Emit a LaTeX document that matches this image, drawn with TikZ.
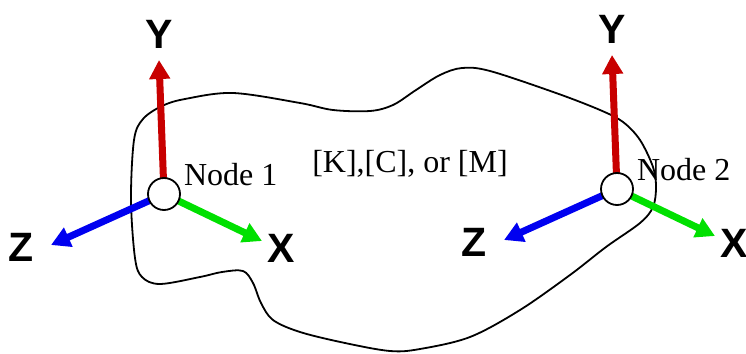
\documentclass[tikz,border=0pt]{standalone}
\usepackage{fontspec}
\setmainfont{Liberation Serif}
\newfontfamily\axisfont{Liberation Sans}
\usetikzlibrary{arrows.meta, positioning}
\definecolor{yaxis}{HTML}{C80000}
\definecolor{xaxis}{HTML}{00E000}
\definecolor{zaxis}{HTML}{0000F0}

\tikzset{
  joint/.style={circle, draw, fill=white, line width=1.8pt, minimum size=32pt, inner sep=0pt},
  axis/.style={line width=7pt, -{Triangle[length=19pt, width=20pt]}},
  axlabel/.style={font=\axisfont\bfseries\fontsize{41}{41}\selectfont, inner sep=0pt},
  tag/.style={font=\fontsize{32}{32}\selectfont, inner sep=0pt},
  outline/.style={line width=1.8pt},
}

\begin{document}
\begin{tikzpicture}[x=1pt, y=-1pt]
  \useasboundingbox (0,0) rectangle (746,353);
  % body outline
  \draw[outline] plot[smooth cycle, tension=0.55] coordinates {
    (143,119) (162,106) (185,99) (233,93) (300,103) (333,110) (370,111)
    (393,105) (416,90) (440,75) (462,68) (490,71) (556,93) (600,110)
    (623,122) (640,140) (653,167) (656,187) (653,207) (640,223) (606,247)
    (570,275) (520,310) (470,337) (420,349) (390,351) (345,343) (300,332)
    (273,320) (261,303) (253,283) (243,271) (222,272) (200,277) (160,284)
    (142,277) (135,258) (131,200) (134,140)};
  \node[tag] (mats) at (410,164) {[K],[C], or [M]};
  \foreach \i/\px/\py in {1/164/194, 2/617/189} {
    \coordinate (c\i) at (\px,\py);
    \path (c\i) ++(-5,-134) coordinate (ytip\i)
          (c\i) ++(98,47) coordinate (xtip\i)
          (c\i) ++(-113,51) coordinate (ztip\i);
    \draw[axis, yaxis] (c\i) -- (ytip\i);
    \draw[axis, xaxis] (c\i) -- (xtip\i);
    \draw[axis, zaxis] (c\i) -- (ztip\i);
    \node[joint] (n\i) at (c\i) {};
    \node[axlabel, above=11pt of ytip\i] (ylab\i) {Y};
    \node[axlabel, right=5pt of xtip\i, yshift=-7pt] (xlab\i) {X};
    \node[axlabel, left=17pt of ztip\i, yshift=-2pt] (zlab\i) {Z};
    \node[tag, anchor=west] (name\i) at ([xshift=3pt, yshift=19pt]n\i.east) {Node \i};
  }
\end{tikzpicture}
\end{document}
